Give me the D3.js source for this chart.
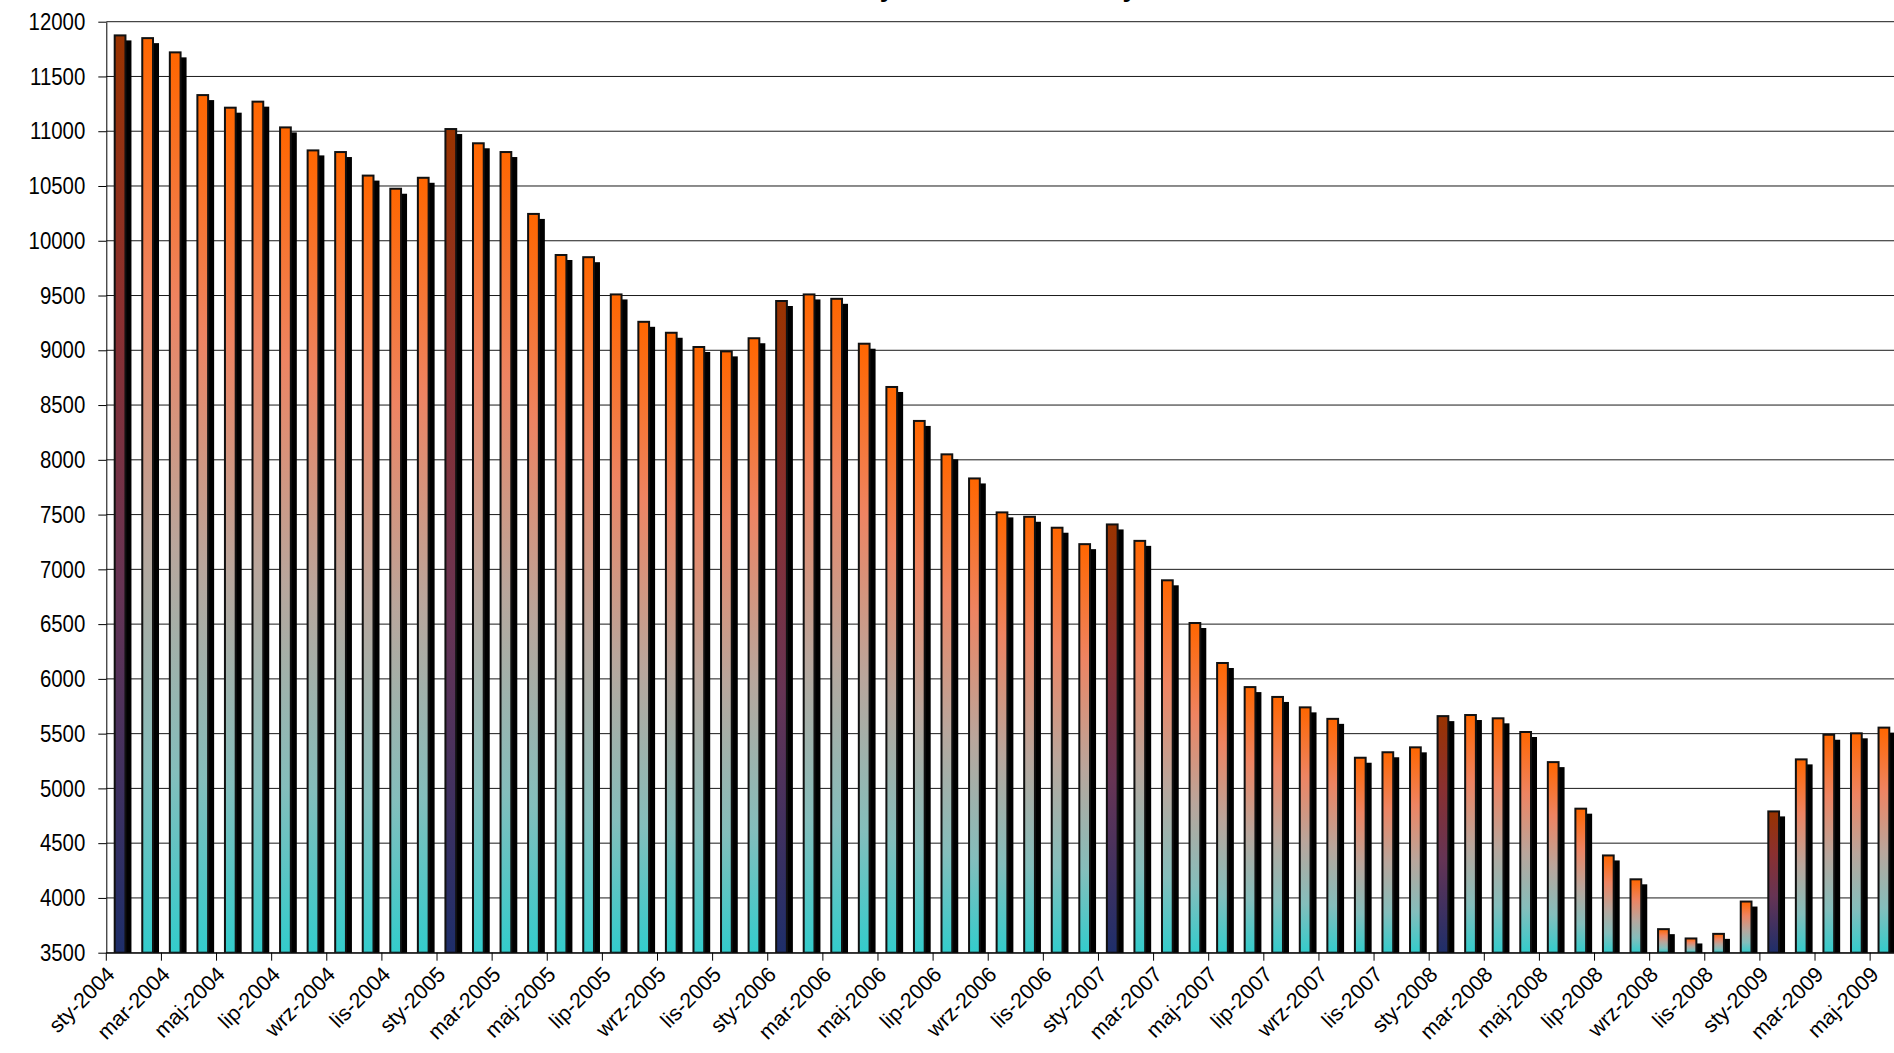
<!DOCTYPE html>
<html>
<head>
<meta charset="utf-8">
<script src="https://cdn.jsdelivr.net/npm/d3@7"></script>
<style>
  body { margin: 0; background: #fff; overflow: hidden; }
  svg { display: block; }
</style>
</head>
<body>
<svg class="chart"></svg>
<script>
// monthly counts, sty-2004 .. maj-2009
let months = ["sty","lut","mar","kwi","maj","cze","lip","sie","wrz","paź","lis","gru"];
let years = [2004, 2005, 2006, 2007, 2008, 2009];

let values2004 = [11875, 11850, 11720, 11330, 11215, 11270, 11035, 10825, 10810, 10595, 10475, 10575];
let values2005 = [11020, 10890, 10810, 10245, 9870, 9850, 9510, 9260, 9160, 9030, 8990, 9110];
let values2006 = [9450, 9510, 9470, 9060, 8665, 8355, 8050, 7830, 7520, 7480, 7380, 7230];
let values2007 = [7410, 7260, 6900, 6510, 6145, 5925, 5835, 5740, 5635, 5280, 5330, 5375];
let values2008 = [5660, 5670, 5640, 5515, 5240, 4815, 4388, 4170, 3715, 3630, 3672, 3967];
let values2009 = [4790, 5265, 5490, 5503, 5555];

let yTicks = d3.range(3500, 12001, 500);
let title_text = "Liczba bezrobotnych w okresie od stycznia 2004 r.";

let w = 1894;
let h = 1053;

let svg = d3.select("svg.chart")
    .attr("width", w)
    .attr("height", h);

let labels = [];
let values = [];
[values2004, values2005, values2006, values2007, values2008, values2009].forEach((arr, yi) => {
    arr.forEach((v, mi) => {
        labels.push(months[mi] + "-" + years[yi]);
        values.push(v);
    });
});
let data = labels.map((l, i) => ({label: l, value: values[i], jan: l.startsWith("sty")}));

let left = 106.3;
let step = 27.56;
let top_y = 21.7;
let bottom_y = 952.7;

let x = d3.scaleBand()
    .domain(labels)
    .range([left, left + step * labels.length])
    .padding(0);

let y = d3.scaleLinear()
    .domain([3500, 12000])
    .range([bottom_y, top_y]);

let font = "Arial, 'Liberation Sans', sans-serif";

// gradients
let defs = svg.append("defs");
function gradient(id, stops) {
    let g = defs.append("linearGradient")
        .attr("id", id)
        .attr("x1", 0).attr("y1", 0)
        .attr("x2", 0).attr("y2", 1);
    stops.forEach(s => g.append("stop").attr("offset", s[0]).attr("stop-color", s[1]));
}
gradient("grad_normal", [[0, "#ff6600"], [0.28, "#ee8462"], [0.55, "#b9a69c"], [0.8, "#84bebc"], [1, "#33cccc"]]);
gradient("grad_jan", [[0, "#993300"], [0.3, "#8a3030"], [0.6, "#663454"], [1, "#1e2e6a"]]);

defs.append("clipPath").attr("id", "plotclip")
    .append("rect")
    .attr("x", left).attr("y", 0)
    .attr("width", w).attr("height", bottom_y);

// gridlines
svg.append("g")
    .attr("class", "grid")
    .selectAll("line")
    .data(yTicks)
    .enter()
    .append("line")
    .attr("x1", left)
    .attr("x2", x.range()[1])
    .attr("y1", d => y(d))
    .attr("y2", d => y(d))
    .attr("stroke", "#1a1a1a")
    .attr("stroke-width", 1);

// bars with shadows
let bar_w = x.bandwidth() * 0.39;
let bars = svg.append("g")
    .attr("class", "bars")
    .attr("clip-path", "url(#plotclip)");

bars.selectAll("rect.shadow")
    .data(data)
    .enter()
    .append("rect")
    .attr("class", "shadow")
    .attr("x", d => x(d.label) + (x.bandwidth() - bar_w) / 2 - 1 + 5)
    .attr("y", d => y(d.value) - 1 + 6)
    .attr("width", bar_w + 2)
    .attr("height", d => bottom_y - y(d.value) + 1)
    .attr("fill", "#000");

bars.selectAll("rect.bar")
    .data(data)
    .enter()
    .append("rect")
    .attr("class", "bar")
    .attr("x", d => x(d.label) + (x.bandwidth() - bar_w) / 2)
    .attr("y", d => y(d.value))
    .attr("width", bar_w)
    .attr("height", d => bottom_y - y(d.value))
    .attr("fill", d => d.jan ? "url(#grad_jan)" : "url(#grad_normal)")
    .attr("stroke", "#111")
    .attr("stroke-width", 2);

// y axis
let y_axis = svg.append("g")
    .attr("transform", "translate(" + left + ",0)")
    .call(d3.axisLeft(y).tickValues(yTicks).tickFormat(d3.format("d"))
        .tickSize(8).tickSizeOuter(0).tickPadding(13));
y_axis.selectAll("text")
    .attr("x", 0)
    .attr("transform", "translate(-21,0) scale(0.85,1)")
    .style("font-family", font)
    .style("font-size", "24px")
    .attr("fill", "#000");
y_axis.selectAll("line, path").attr("stroke", "#000");

// x axis, ticks at category boundaries every 2 months
let shown = labels.filter((l, i) => i % 2 == 0);
let x_axis = svg.append("g")
    .attr("transform", "translate(0," + bottom_y + ")")
    .call(d3.axisBottom(x).tickValues(shown).tickSize(8).tickSizeOuter(0));
x_axis.select("path").attr("stroke", "#000");
x_axis.selectAll(".tick line")
    .attr("stroke", "#000")
    .attr("transform", "translate(" + (-x.bandwidth() / 2) + ",0)");
x_axis.selectAll(".tick text")
    .attr("y", 0)
    .attr("dy", 0)
    .attr("transform", "translate(-4,23) rotate(-45)")
    .attr("text-anchor", "end")
    .style("font-family", font)
    .style("font-size", "21.5px")
    .attr("fill", "#000");

// title, mostly above the visible area
let title = svg.append("text")
    .attr("class", "title")
    .attr("x", 0)
    .attr("y", 0)
    .style("font-family", font)
    .style("font-weight", "bold")
    .style("font-size", "26px")
    .attr("fill", "#000")
    .text(title_text);

let node = title.node();
let ys = [];
for (let i = 0; i < title_text.length; i++) if (title_text[i] == "y") ys.push(i);
function yCenter(i) {
    let e = node.getExtentOfChar(i);
    return e.x + e.width / 2;
}
let dist = yCenter(ys[1]) - yCenter(ys[0]);
let size = 26 * 243 / dist;
title.style("font-size", size + "px");
let shift = 887 - yCenter(ys[0]);
title.attr("x", shift).attr("y", 2.8 - 0.21 * size);
</script>
</body>
</html>
